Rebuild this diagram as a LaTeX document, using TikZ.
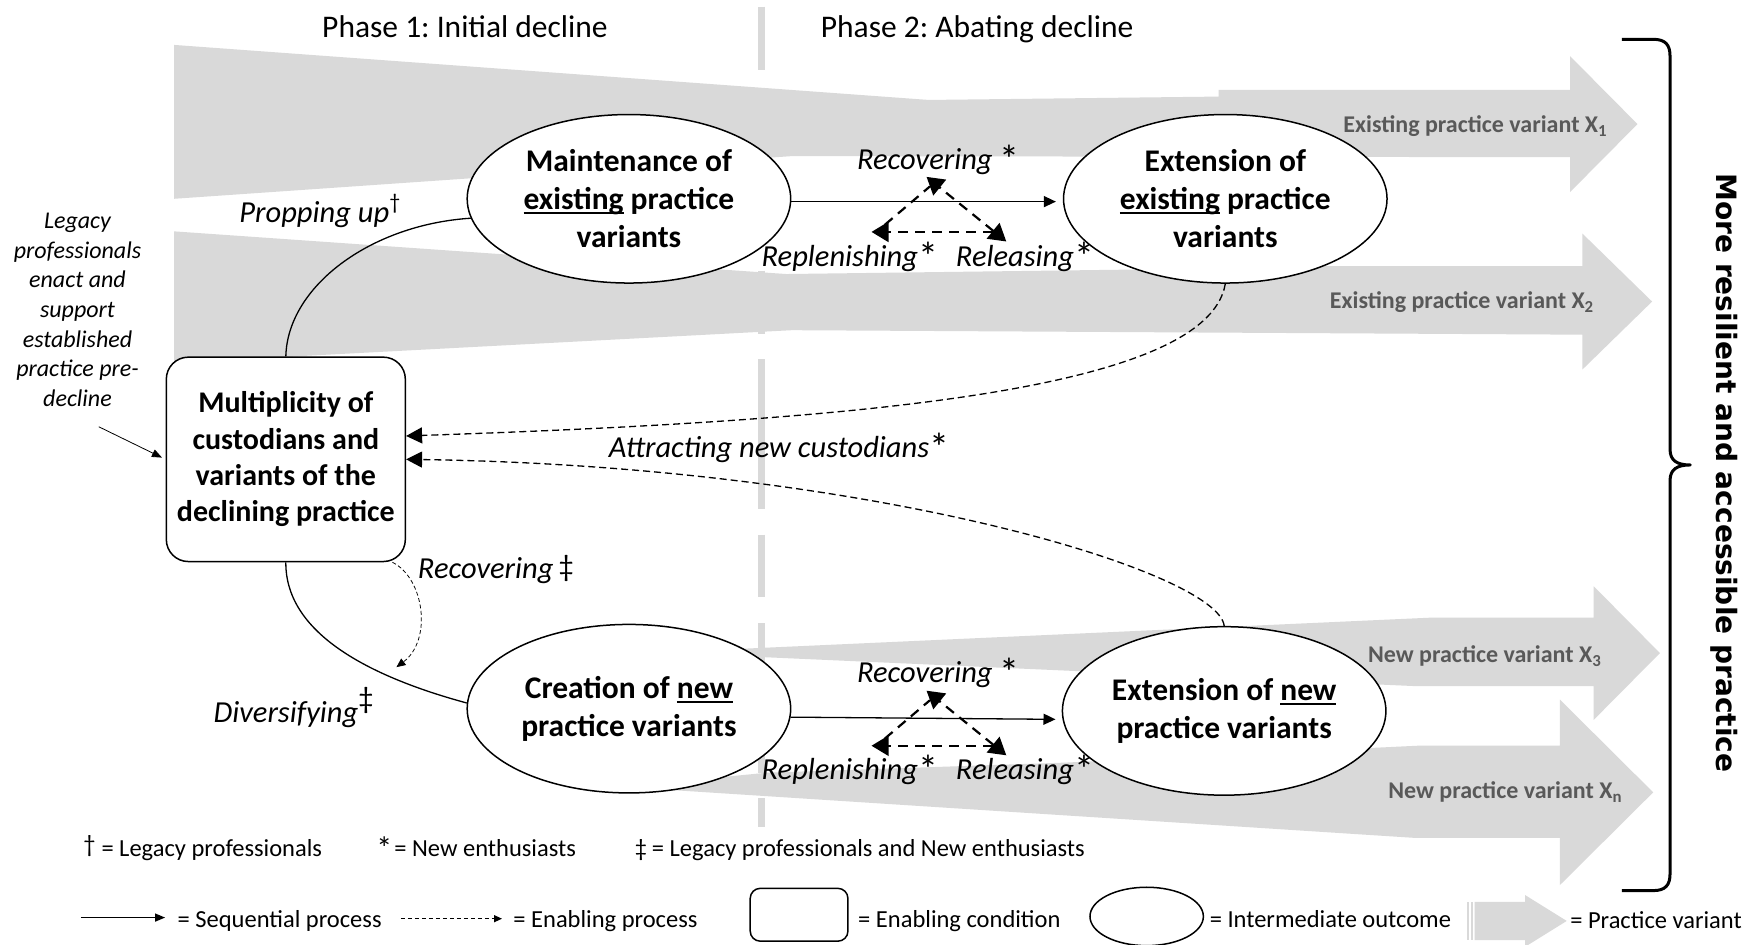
\documentclass[tikz,border=0pt]{standalone}
\usepackage{fontspec}
\setmainfont{Carlito}
\newfontfamily\vtitlefont{DejaVu Sans}
\usetikzlibrary{arrows.meta,shapes.geometric,calc}
\definecolor{band}{HTML}{D9D9D9}
\definecolor{bandtext}{HTML}{595959}
\newcommand{\ulbar}[1]{\setbox0\hbox{#1}\rlap{\rule[-4.5pt]{\wd0}{2pt}}\box0\relax}
\newcommand{\bigast}{\raisebox{-4pt}{\upshape\fontsize{40}{40}\selectfont *}}
\newcommand{\legast}{\raisebox{-3pt}{\fontsize{32}{32}\selectfont *}}
\frenchspacing
\begin{document}
\frenchspacing
\begin{tikzpicture}[x=1.1231pt,y=-1.1231pt,
  outcome/.style={ellipse,draw=black,line width=1.5pt,fill=white,minimum width=323.5pt,minimum height=168.5pt,inner sep=0pt,align=center,font=\fontsize{31.5}{38}\selectfont\bfseries},
  condition/.style={rectangle,rounded corners=22pt,draw=black,line width=1.5pt,fill=white,minimum width=239pt,minimum height=204.4pt,inner sep=0pt,align=center,font=\fontsize{30}{36.3}\selectfont\bfseries},
  proclabel/.style={font=\fontsize{30.5}{36}\selectfont\itshape,inner sep=0pt,anchor=base west},
  bandlabel/.style={font=\fontsize{24}{28}\selectfont\bfseries,text=bandtext,anchor=base west,inner sep=0pt},
  legendtext/.style={font=\fontsize{24.5}{29}\selectfont,anchor=base west,inner sep=0pt},
  phasetext/.style={font=\fontsize{31.5}{36}\selectfont,inner sep=0pt},
  seqarrow/.style={line width=1.3pt,-{Triangle[length=12pt,width=11pt]}},
  enablearrow/.style={line width=1.3pt,dash pattern=on 7pt off 4pt,-{Triangle[length=16pt,width=16pt]}},
  cyclearrow/.style={line width=2.2pt,dash pattern=on 10pt off 7pt},
  phasebar/.style={draw=band,line width=7pt,dash pattern=on 62.9pt off 25.8pt on 149.4pt off 25.8pt},
]
\fill[white] (0,0) rectangle (1568,841);
\useasboundingbox (0,0) rectangle (1568,841);

% phase separator
\draw[phasebar] (678,6) -- (678,736);

% practice variant bands
\fill[band] (155,40) -- (827,89) -- (1085,86) -- (1085,80) -- (1398,80) -- (1398,50) -- (1458,110.5) -- (1398,171) -- (1398,140) -- (705,139) -- (155,177) -- cycle;
\fill[band] (155,206) -- (700,244) -- (1088,239) -- (1088,237) -- (1409,237) -- (1409,208) -- (1471,268.5) -- (1409,329) -- (1409,298) -- (705,294) -- (155,323) -- cycle;
\fill[band] (587,581) -- (1273,550) -- (1419,550) -- (1419,522) -- (1478,581.5) -- (1419,641) -- (1419,611) -- (1262,611) -- cycle;
\fill[band] (560,700) -- (683,688) -- (949,679) -- (1262,664) -- (1389,664) -- (1389,623) -- (1472,705.5) -- (1389,788) -- (1389,746) -- (1259,746) -- (560,701) -- cycle;

% band labels
\node[bandlabel] (bl1) at (1196,118) {Existing practice variant X\textsubscript{1}};
\node[bandlabel] (bl2) at (1184,275) {Existing practice variant X\textsubscript{2}};
\node[bandlabel] (bl3) at (1218,590) {New practice variant X\textsubscript{3}};
\node[bandlabel] (bln) at (1236,711) {New practice variant X\textsubscript{n}};

% phase titles
\node[phasetext] (ph1) at (414,24) {Phase 1: Initial decline};
\node[phasetext] (ph2) at (870,26) {Phase 2: Abating decline};

% main nodes
\node[condition] (multi) at (254.5,409) {Multiplicity of\\custodians and\\variants of the\\declining practice};
\node[outcome] (maint) at (560,177) {Maintenance of\\\ulbar{existing} practice\\variants};
\node[outcome] (extE) at (1091,177) {Extension of\\\ulbar{existing} practice\\variants};
\node[outcome] (creat) at (560,631) {Creation of \ulbar{new}\\practice variants};
\node[outcome] (extN) at (1090,633) {Extension of \ulbar{new}\\practice variants};

% legacy text
\node[font=\fontsize{24}{29.6}\selectfont\itshape,align=center,inner sep=0pt] (legacy) at (69,276) {Legacy\\professionals\\enact and\\support\\established\\practice pre-\\decline};
\coordinate (legStart) at (88,380);
\draw[line width=0.8pt,-{Triangle[length=10pt,width=8pt]},shorten >=4pt] (legStart) -- (multi.west);

% solid curves
\draw[line width=1.3pt] (multi.north) .. controls (256,255) and (330,200) .. (maint.187);
\draw[line width=1.3pt] (multi.south) .. controls (254,560) and (320,600) .. (creat.178);

% sequential arrows
\draw[seqarrow,shorten >=7pt] (maint.-1) -- (extE.181);
\draw[seqarrow,shorten >=7pt] (creat.-3) -- (extN.183);

% cycle triangles
\coordinate (tTa) at (825,157.5);
\coordinate (tLa) at (776,206.5);
\coordinate (tRa) at (896,215);
\coordinate (tLsa) at (788,200);
\coordinate (tLea) at (828,166);
\coordinate (tHsa) at (884,206.5);
\draw[cyclearrow] (tLsa) -- (tLea);
\draw[cyclearrow,{Triangle[length=17pt,width=20pt]}-{Triangle[length=17pt,width=20pt]}] (tRa) -- (tTa);
\draw[cyclearrow,-{Triangle[length=17pt,width=20pt]}] (tHsa) -- (tLa);

\coordinate (tTb) at (825,615);
\coordinate (tLb) at (776,664);
\coordinate (tRb) at (896,672.5);
\coordinate (tLsb) at (788,657.5);
\coordinate (tLeb) at (828,623.5);
\coordinate (tHsb) at (884,664);
\draw[cyclearrow] (tLsb) -- (tLeb);
\draw[cyclearrow,{Triangle[length=17pt,width=20pt]}-{Triangle[length=17pt,width=20pt]}] (tRb) -- (tTb);
\draw[cyclearrow,-{Triangle[length=17pt,width=20pt]}] (tHsb) -- (tLb);

% enabling arrows
\draw[enablearrow] (extE.south) .. controls (1075,350) and (750,375) .. (multi.11);
\draw[enablearrow] (extN.north) .. controls (1085,510) and (780,415) .. (multi.east);
\coordinate (recEnd) at (353,594);
\draw[line width=0.75pt,dash pattern=on 4pt off 2.5pt,-{Triangle[length=9pt,width=8pt]}] (multi.-44) .. controls (378,515) and (385,570) .. (recEnd);

% process labels
\node[proclabel] (lProp) at (213,198) {Propping up\raisebox{13pt}{\upshape\fontsize{22}{22}\selectfont †}};
\node[proclabel] (lRec1) at (763,151) {Recovering \bigast};
\node[proclabel] (lRep1) at (678,237) {Replenishing\bigast};
\node[proclabel] (lRel1) at (851,237) {Releasing\bigast};
\node[proclabel] (lAttr) at (542,407) {Attracting new custodians\bigast};
\node[proclabel] (lRec2) at (372,515) {Recovering\,\raisebox{2pt}{\upshape ‡}};
\node[proclabel] (lDiv) at (190,643) {Diversifying\raisebox{14pt}{\upshape ‡}};
\node[proclabel] (lRec3) at (763,608) {Recovering \bigast};
\node[proclabel] (lRep3) at (678,694) {Replenishing\bigast};
\node[proclabel] (lRel3) at (851,694) {Releasing\bigast};

% brace and outcome title
\draw[line width=3pt,line join=round] (1444,35) -- (1472,35) .. controls (1483,35) and (1487,40) .. (1487,50) -- (1487,400) .. controls (1487,410) and (1493,414) .. (1505,414) .. controls (1493,414) and (1487,418) .. (1487,428) -- (1487,778) .. controls (1487,788) and (1483,793) .. (1472,793) -- (1444,793);
\node[rotate=-90,font=\vtitlefont\bfseries\fontsize{28}{32}\selectfont,inner sep=0pt] (resil) at (1535,421) {More resilient and accessible practice};

% legend row 1
\node[legendtext] (lg1) at (74,763) {\raisebox{4pt}{†}\hspace{6pt}= Legacy professionals};
\node[legendtext] (lg2) at (335,763) {\legast\hspace{2pt}= New enthusiasts};
\node[legendtext] (lg3) at (565,763) {‡\hspace{5pt}= Legacy professionals and New enthusiasts};

% legend row 2
\coordinate (lgSeqA) at (72,817);
\coordinate (lgSeqB) at (147,817);
\draw[line width=1.3pt,-{Triangle[length=10pt,width=8pt]}] (lgSeqA) -- (lgSeqB);
\node[legendtext] (lgSeq) at (158,826) {= Sequential process};
\coordinate (lgEnA) at (357,818);
\coordinate (lgEnB) at (447,818);
\draw[line width=1.3pt,dash pattern=on 4pt off 3pt,-{Triangle[length=8pt,width=7pt]}] (lgEnA) -- (lgEnB);
\node[legendtext] (lgEn) at (457,826) {= Enabling process};
\node[draw,rounded corners=10pt,minimum width=97.7pt,minimum height=52.8pt,line width=1.5pt,inner sep=0pt] (lgBox) at (711.5,814.5) {};
\node[legendtext] (lgBoxT) at (764,826) {= Enabling condition};
\node[ellipse,draw,minimum width=113.4pt,minimum height=58.4pt,line width=1.5pt,inner sep=0pt] (lgEll) at (1021,816) {};
\node[legendtext] (lgEllT) at (1077,826) {= Intermediate outcome};
\fill[band] (1306,803) rectangle (1307.7,837);
\fill[band] (1309.5,803) rectangle (1311.2,837);
\fill[band] (1313,803) -- (1358,803) -- (1358,797) -- (1395,820) -- (1358,843) -- (1358,837) -- (1313,837) -- cycle;
\node[legendtext] (lgArrT) at (1398,827) {= Practice variant};
\end{tikzpicture}
\end{document}
